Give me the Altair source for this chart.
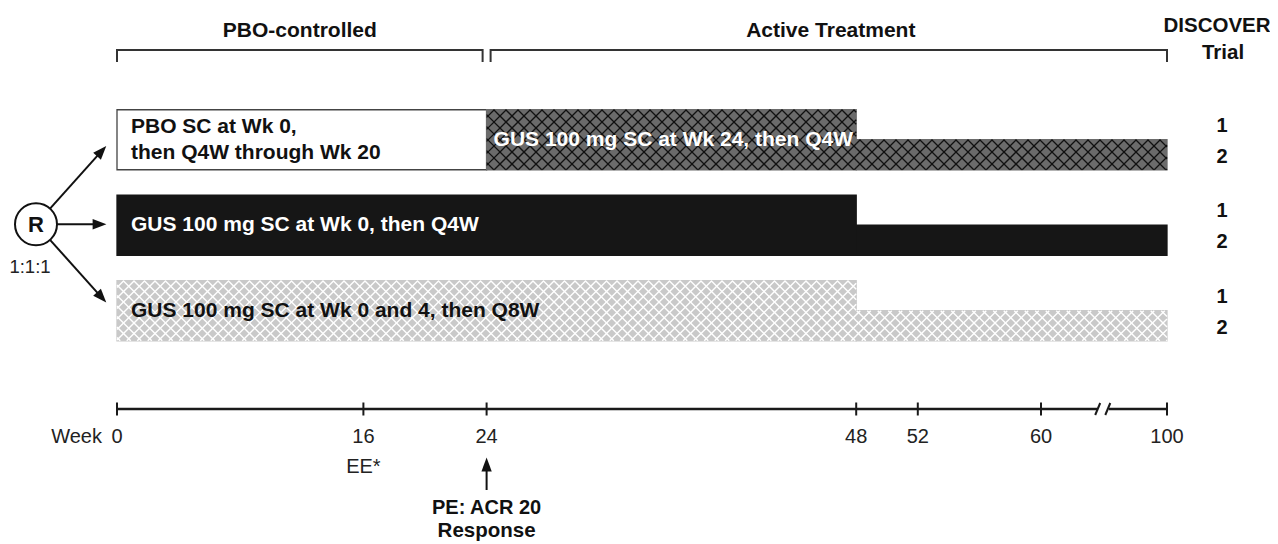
import math
import altair as alt
import pandas as pd

# ---------------- data ----------------
phase_names = ["PBO-controlled", "Active Treatment"]
phase_start_wk = [0, 24]
phase_end_wk = [24, 100]

# arm 0: PBO -> GUS at Wk 24 ; arm 1: GUS Q4W ; arm 2: GUS Q8W
seg_arm = [0, 0, 0, 1, 1, 2, 2]
seg_start_wk = [0, 24, 48, 0, 48, 0, 48]
seg_end_wk = [24, 48, 100, 48, 100, 48, 100]
seg_trials = ["1+2", "1+2", "2", "1+2", "2", "1+2", "2"]
seg_regimen = ["PBO", "GUS Q4W from Wk 24", "GUS Q4W from Wk 24",
               "GUS Q4W", "GUS Q4W", "GUS Q8W", "GUS Q8W"]

label_lines = ["PBO SC at Wk 0,", "then Q4W through Wk 20",
               "GUS 100 mg SC at Wk 24, then Q4W",
               "GUS 100 mg SC at Wk 0, then Q4W",
               "GUS 100 mg SC at Wk 0 and 4, then Q8W"]
label_arm = [0, 0, 0, 1, 2]
label_start_wk = [0, 0, 24, 0, 0]
label_line_no = [-1, 1, 0, 0, 0]
label_regimen = ["PBO", "PBO", "GUS Q4W from Wk 24", "GUS Q4W", "GUS Q8W"]

trial_names = ["1", "2"]
column_title = ["DISCOVER", "Trial"]
tick_weeks = [0, 16, 24, 48, 52, 60, 100]
tick_text = ["0", "16", "24", "48", "52", "60", "100"]
axis_title = "Week"
ee_week, ee_text = 16, "EE*"
pe_week, pe_text = 24, ["PE: ACR 20", "Response"]
rand_text, ratio_text = "R", "1:1:1"
break_between = [60, 100]

# ---------------- layout / style ----------------
W, H = 1262, 536
X_DOMAIN = [0, 60, 100]
X_RANGE = [109, 1033, 1159]
LANE0, LANE_STEP = 131.75, 85.5
HALF = 30
FONT = "Liberation Sans"

FILL = {"PBO": "#ffffff", "GUS Q4W from Wk 24": "#6b6b6b", "GUS Q4W": "#161616", "GUS Q8W": "#c9c9c9"}
STROKE = {"PBO": "#444444", "GUS Q4W from Wk 24": "#6b6b6b", "GUS Q4W": "#161616", "GUS Q8W": "#c9c9c9"}
TEXTC = {"PBO": "#111111", "GUS Q4W from Wk 24": "#ffffff", "GUS Q4W": "#ffffff", "GUS Q8W": "#111111"}
HATCH = {"GUS Q4W from Wk 24": ("#111111", 12.0, 1.3), "GUS Q8W": ("#ffffff", 10.5, 1.5)}


def wk2px(w):
    if w <= X_DOMAIN[1]:
        return X_RANGE[0] + (w - X_DOMAIN[0]) * (X_RANGE[1] - X_RANGE[0]) / (X_DOMAIN[1] - X_DOMAIN[0])
    return X_RANGE[1] + (w - X_DOMAIN[1]) * (X_RANGE[2] - X_RANGE[1]) / (X_DOMAIN[2] - X_DOMAIN[1])


def px2wk(p):
    if p <= X_RANGE[1]:
        return X_DOMAIN[0] + (p - X_RANGE[0]) * (X_DOMAIN[1] - X_DOMAIN[0]) / (X_RANGE[1] - X_RANGE[0])
    return X_DOMAIN[1] + (p - X_RANGE[1]) * (X_DOMAIN[2] - X_DOMAIN[1]) / (X_RANGE[2] - X_RANGE[1])


def ln2py(l):
    return LANE0 + l * LANE_STEP


def py2ln(p):
    return (p - LANE0) / LANE_STEP


xscale = alt.Scale(type="linear", domain=X_DOMAIN, range=X_RANGE, zero=False, nice=False)
yscale = alt.Scale(type="linear", domain=[py2ln(0), py2ln(H)], range=[0, H], zero=False, nice=False)


def X(f):
    return alt.X(f, type="quantitative", scale=xscale, axis=None)


def Y(f):
    return alt.Y(f, type="quantitative", scale=yscale, axis=None)


# ---------------- bars ----------------
bar_rows = []
for a, s, e, t, g in zip(seg_arm, seg_start_wk, seg_end_wk, seg_trials, seg_regimen):
    yc = ln2py(a)
    top = yc - HALF if t == "1+2" else yc
    bar_rows.append(dict(x=s, x2=e, y=py2ln(top), y2=py2ln(yc + HALF),
                         fill=FILL[g], stroke=STROKE[g], regimen=g))
bars_df = pd.DataFrame(bar_rows)

# ---------------- rules (hatching, timeline, brackets, arrows) ----------------
rules = []


def add_rule(px0, py0, px1, py1, color, sw):
    rules.append(dict(x=px2wk(px0), x2=px2wk(px1), y=py2ln(py0), y2=py2ln(py1), color=color, sw=sw))


def hatch_lines(x0, x1, y0, y1, sp):
    out = []
    c = math.floor((x0 - y1) / sp) * sp
    while c <= x1 - y0:
        xa, xb = max(x0, y0 + c), min(x1, y1 + c)
        if xb - xa > 0.01:
            out.append((xa, xa - c, xb, xb - c))
        c += sp
    c = math.floor((x0 + y0) / sp) * sp
    while c <= x1 + y1:
        xa, xb = max(x0, c - y1), min(x1, c - y0)
        if xb - xa > 0.01:
            out.append((xa, c - xa, xb, c - xb))
        c += sp
    return out


for a, s, e, t, g in zip(seg_arm, seg_start_wk, seg_end_wk, seg_trials, seg_regimen):
    if g not in HATCH:
        continue
    col, sp, sw = HATCH[g]
    yc = ln2py(a)
    y0 = yc - HALF if t == "1+2" else yc
    y1 = yc + HALF
    cuts = [s] + [b for b in X_DOMAIN if s < b < e] + [e]
    for w0, w1 in zip(cuts[:-1], cuts[1:]):
        for (xa, ya, xb, yb) in hatch_lines(wk2px(w0), wk2px(w1), y0, y1, sp):
            add_rule(xa, ya, xb, yb, col, sw)

# timeline
TL_Y = 401
b0 = wk2px(break_between[0])
b1 = wk2px(break_between[1])
slash1 = b0 + (b1 - b0) * 0.45
slash2 = b0 + (b1 - b0) * 0.53
add_rule(wk2px(tick_weeks[0]), TL_Y, slash1, TL_Y, "#1a1a1a", 2.6)
add_rule(slash2 + 1, TL_Y, wk2px(tick_weeks[-1]), TL_Y, "#1a1a1a", 2.6)
for w in tick_weeks:
    add_rule(wk2px(w), TL_Y - 6.5, wk2px(w), TL_Y + 6.5, "#1a1a1a", 2)
for sx in (slash1, slash2):
    add_rule(sx - 2.5, TL_Y + 6, sx + 2.5, TL_Y - 6, "#1a1a1a", 2)

# header brackets
BR_Y, BR_TICK = 42, 12
for i, (s, e) in enumerate(zip(phase_start_wk, phase_end_wk)):
    xa = wk2px(s) + (4 if i > 0 else 0)
    xb = wk2px(e) - (4 if i == 0 else 0)
    add_rule(xa, BR_Y, xb, BR_Y, "#333333", 2)
    add_rule(xa, BR_Y - 1, xa, BR_Y + BR_TICK, "#333333", 2)
    add_rule(xb, BR_Y - 1, xb, BR_Y + BR_TICK, "#333333", 2)

# randomisation arrows
CX, CY, CR = 28, ln2py(1) - 1, 21
circle_wk = px2wk(CX)
heads = []
tip_x = wk2px(0) - 11
for dy in (-78, 0, 78):
    tx, ty = tip_x, CY + dy
    dx_, dy_ = tx - CX, ty - CY
    n = math.hypot(dx_, dy_)
    ux, uy = dx_ / n, dy_ / n
    add_rule(CX + CR * ux, CY + CR * uy, tx - 9 * ux, ty - 9 * uy, "#111111", 2)
    ang = (math.degrees(math.atan2(ux, -uy)) + 360) % 360
    heads.append(dict(x=px2wk(tx - 6.5 * ux), y=py2ln(ty - 6.5 * uy), angle=ang))

# PE arrow
pe_x = wk2px(pe_week)
add_rule(pe_x, 482, pe_x, 460, "#111111", 2)
heads.append(dict(x=pe_week, y=py2ln(450 + 6.5), angle=0))

rules_df = pd.DataFrame(rules)
heads_df = pd.DataFrame(heads)

# ---------------- texts ----------------
bold_left, bold_center, reg_center, reg_right = [], [], [], []

for txt, a, s, ln, g in zip(label_lines, label_arm, label_start_wk, label_line_no, label_regimen):
    off = 14 if s == 0 else 7
    bold_left.append(dict(x=px2wk(wk2px(s) + off), y=py2ln(ln2py(a) + 13 * ln),
                          text=txt, color=TEXTC[g], size=21))

for name, s, e in zip(phase_names, phase_start_wk, phase_end_wk):
    mid = (wk2px(s) + wk2px(e)) / 2 + (4 if s > 0 else -2)
    bold_center.append(dict(x=px2wk(mid), y=py2ln(23), text=name, color="#111111", size=21))

COL_X = 1214
bold_center.append(dict(x=px2wk(COL_X - 5), y=py2ln(18), text=column_title[0], color="#111111", size=20.5))
bold_center.append(dict(x=px2wk(COL_X + 1), y=py2ln(45), text=column_title[1], color="#111111", size=20.5))
for a in sorted(set(seg_arm)):
    bold_center.append(dict(x=px2wk(COL_X), y=py2ln(ln2py(a) - 14), text=trial_names[0], color="#111111", size=20))
    bold_center.append(dict(x=px2wk(COL_X), y=py2ln(ln2py(a) + 17), text=trial_names[1], color="#111111", size=20))

bold_center.append(dict(x=pe_week, y=py2ln(500), text=pe_text[0], color="#111111", size=20))
bold_center.append(dict(x=pe_week, y=py2ln(523), text=pe_text[1], color="#111111", size=20.5))
bold_center.append(dict(x=circle_wk, y=py2ln(CY + 1), text=rand_text, color="#111111", size=22))

for w, t in zip(tick_weeks, tick_text):
    reg_center.append(dict(x=w, y=py2ln(429), text=t, color="#222222", size=20))
reg_center.append(dict(x=ee_week, y=py2ln(459), text=ee_text, color="#222222", size=20))
reg_center.append(dict(x=px2wk(22), y=py2ln(259), text=ratio_text, color="#222222", size=18.5))
reg_right.append(dict(x=px2wk(94), y=py2ln(429), text=axis_title, color="#222222", size=20))


def text_layer(rows, align, weight):
    return alt.Chart(pd.DataFrame(rows)).mark_text(
        align=align, baseline="middle", font=FONT, fontWeight=weight
    ).encode(
        x=X("x"), y=Y("y"), text="text:N",
        color=alt.Color("color:N", scale=None),
        size=alt.Size("size:Q", scale=None),
    )


bars = alt.Chart(bars_df).mark_rect(strokeWidth=1.3).encode(
    x=X("x"), x2="x2", y=Y("y"), y2="y2",
    fill=alt.Fill("fill:N", scale=None),
    stroke=alt.Stroke("stroke:N", scale=None),
)

rule_layer = alt.Chart(rules_df).mark_rule(strokeCap="butt").encode(
    x=X("x"), x2="x2", y=Y("y"), y2="y2",
    color=alt.Color("color:N", scale=None),
    strokeWidth=alt.StrokeWidth("sw:Q", scale=None),
)

circle = alt.Chart(pd.DataFrame([dict(x=circle_wk, y=py2ln(CY))])).mark_point(
    shape="circle", size=(2 * CR) ** 2, filled=True, fill="white", stroke="#111111",
    strokeWidth=2, opacity=1
).encode(x=X("x"), y=Y("y"))

arrowheads = alt.Chart(heads_df).mark_point(
    shape="M0,-1L0.75,1L-0.75,1Z", size=190, filled=True, color="#111111", opacity=1
).encode(x=X("x"), y=Y("y"), angle=alt.Angle("angle:Q", scale=None))

chart = alt.layer(
    bars, rule_layer, circle, arrowheads,
    text_layer(bold_left, "left", "bold"),
    text_layer(bold_center, "center", "bold"),
    text_layer(reg_center, "center", "normal"),
    text_layer(reg_right, "right", "normal"),
).properties(
    width=W, height=H, padding=0, autosize=alt.AutoSizeParams(type="none"),
    background="white",
).configure_view(strokeWidth=0)

chart.save("out.html", embed_options={"renderer": "svg", "actions": False})
